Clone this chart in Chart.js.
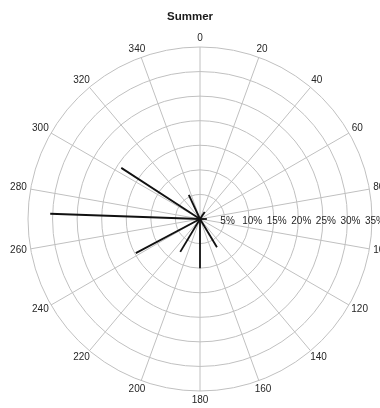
<!DOCTYPE html>
<html>
<head>
<meta charset="utf-8">
<script src="https://cdn.jsdelivr.net/npm/chart.js@4.4.0/dist/chart.umd.min.js"></script>
<style>
  html, body { margin: 0; padding: 0; background: #fff; }
  #wrap { width: 380px; height: 408px; }
</style>
</head>
<body>
<div id="wrap"><canvas id="rose"></canvas></div>
<script>
// wind direction (degrees, clockwise from north) and frequency (%)
const directions = [303, 272, 242, 335, 211, 180, 149, 34, 90];
const percents = [19.1, 30.5, 14.8, 5.4, 7.8, 10.0, 6.7, 1.7, 1.4];

const angleTicks = [0, 20, 40, 60, 80, 100, 120, 140, 160, 180, 200, 220, 240, 260, 280, 300, 320, 340];
const radialTicks = [5, 10, 15, 20, 25, 30, 35];

// one category per degree so spokes land on their exact direction
const degrees = Array.from({ length: 360 }, (_, i) => i);

const FONT = '"Liberation Sans", Arial, Helvetica, sans-serif';

// each spoke: point at its direction, then 0 (the centre) on the next degree
const spokes = directions.map((dir, i) => {
  const data = new Array(360).fill(null);
  data[dir] = percents[i];
  data[(dir + 1) % 360] = 0;
  return {
    label: dir + '°',
    data: data,
    borderColor: '#111',
    borderWidth: 1.8,
    pointRadius: 0,
    fill: false,
    spanGaps: false,
  };
});

// angle labels round the rim and % labels along the east axis
const polarLabels = {
  id: 'polarLabels',
  afterDraw(chart) {
    const r = chart.scales.r;
    const c = chart.ctx;
    c.save();
    c.font = '10px ' + FONT;
    c.fillStyle = '#262626';
    c.textAlign = 'center';
    c.textBaseline = 'middle';
    const outer = r.getDistanceFromCenterForValue(r.max);
    angleTicks.forEach((a) => {
      const rad = (a * Math.PI) / 180;
      const txt = String(a);
      const w = c.measureText(txt).width;
      const h = 10;
      const p = r.getPointPosition(a, outer + 4);
      c.fillText(txt, p.x + (Math.sin(rad) * w) / 2, p.y - (Math.cos(rad) * h) / 2);
    });
    radialTicks.forEach((v) => {
      const d = r.getDistanceFromCenterForValue(v);
      c.fillText(v + '%', r.xCenter + d + 3, r.yCenter + 2);
    });
    c.restore();
  },
};

new Chart(document.getElementById('rose'), {
  type: 'radar',
  data: {
    labels: degrees,
    datasets: spokes,
  },
  options: {
    responsive: true,
    maintainAspectRatio: false,
    animation: false,
    plugins: {
      legend: { display: false },
      tooltip: { enabled: false },
      title: {
        display: true,
        text: 'Summer',
        color: '#1a1a1a',
        font: { family: FONT, size: 11.5, weight: 'bold' },
        padding: { top: 10, bottom: 10 },
      },
    },
    scales: {
      r: {
        min: 0,
        max: 35,
        startAngle: 0,
        ticks: { stepSize: 5, display: false },
        grid: { circular: true, color: '#c0c0c0', lineWidth: 1 },
        angleLines: {
          color: '#c0c0c0',
          lineWidth: (ctx) => (ctx.index % 20 === 0 ? 1 : 0),
        },
        pointLabels: { display: false },
        afterFit: (scale) => {
          scale.xCenter = 200;
          scale.yCenter = 219;
          scale.drawingArea = 172;
        },
      },
    },
  },
  plugins: [polarLabels],
});
</script>
</body>
</html>
